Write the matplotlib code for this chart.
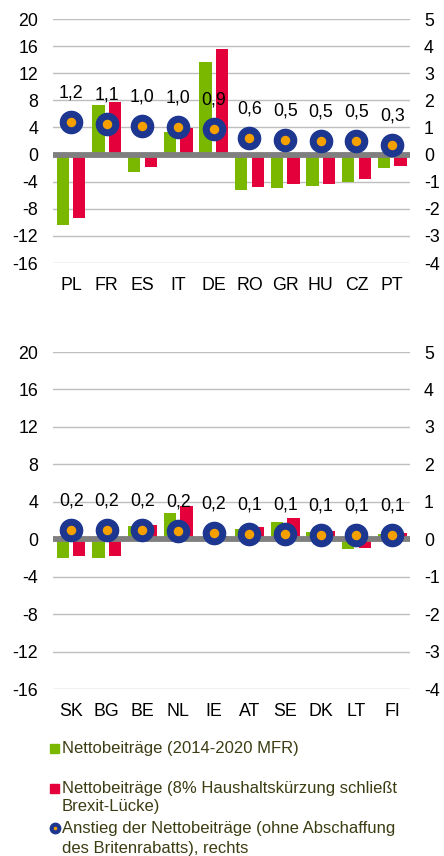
import matplotlib
matplotlib.use("Agg")
import matplotlib.pyplot as plt
from matplotlib.lines import Line2D
from matplotlib.patches import Rectangle

plt.rcParams['font.family'] = ['Liberation Sans', 'DejaVu Sans']

# Werte
laender_oben = ['PL', 'FR', 'ES', 'IT', 'DE', 'RO', 'GR', 'HU', 'CZ', 'PT']
netto_mfr_oben = [-10.4, 7.3, -2.6, 3.4, 13.7, -5.3, -4.9, -4.7, -4.1, -2.0]
netto_kuerzung_oben = [-9.4, 7.8, -1.8, 3.9, 15.6, -4.8, -4.4, -4.3, -3.6, -1.7]
anstieg_oben = [1.2, 1.12, 1.04, 1.0, 0.93, 0.6, 0.54, 0.5, 0.5, 0.34]

laender_unten = ['SK', 'BG', 'BE', 'NL', 'IE', 'AT', 'SE', 'DK', 'LT', 'FI']
netto_mfr_unten = [-2.0, -2.0, 1.4, 2.85, 0.2, 1.1, 1.85, 0.8, -1.07, 0.55]
netto_kuerzung_unten = [-1.8, -1.8, 1.55, 3.6, 0.3, 1.35, 2.25, 0.9, -0.93, 0.65]
anstieg_unten = [0.24, 0.24, 0.24, 0.22, 0.16, 0.14, 0.14, 0.12, 0.12, 0.12]

links_ticks = list(range(-16, 21, 4))
rechts_ticks = list(range(-4, 6))

GRUEN = '#7AB800'
ROT = '#E4003A'
BLAU = '#1D3791'
ORANGE = '#F6A000'
TEXT = '#3D3D14'

W, H = 444, 856
fig = plt.figure(figsize=(W / 100, H / 100), dpi=100)


def panel(rect, laender, gruen, rot, punkte):
    ax = fig.add_axes(rect)
    x = list(range(len(laender)))
    ax.bar([i - 0.23 for i in x], gruen, width=0.345, color=GRUEN, zorder=2)
    ax.bar([i + 0.23 for i in x], rot, width=0.345, color=ROT, zorder=2)
    ax.set_xlim(-0.5, len(laender) - 0.5)
    ax.set_ylim(-16, 20)
    ax.set_yticks(links_ticks)
    ax.set_yticklabels([str(t) for t in links_ticks])
    for t in links_ticks:
        if t != 0:
            ax.axhline(t, color='#BEBEBE', lw=1, zorder=1)
    ax.axhline(0, color='#7F7F7F', lw=4.2, zorder=3)
    ax.set_xticks(x)
    ax.set_xticklabels(laender)
    ax.tick_params(length=0, labelsize=12.8, colors='black')
    ax.tick_params(axis='x', pad=10)
    ax.tick_params(axis='y', pad=11)
    for s in ax.spines.values():
        s.set_visible(False)

    ax2 = ax.twinx()
    ax2.set_ylim(-4, 5)
    ax2.set_yticks(rechts_ticks)
    ax2.set_yticklabels([str(t) for t in rechts_ticks])
    ax2.tick_params(length=0, labelsize=12.8, colors='black', pad=10)
    for s in ax2.spines.values():
        s.set_visible(False)
    ax2.plot(x, punkte, 'o', ms=16, color=BLAU, ls='none', zorder=4)
    ax2.plot(x, punkte, 'o', ms=5.8, color=ORANGE, ls='none', zorder=5)
    for i, v in zip(x, punkte):
        ax2.annotate(f"{v:.1f}".replace('.', ','), (i, v), xytext=(0, 21),
                     textcoords='offset points', ha='center', va='center',
                     fontsize=12.8, color='black')
    return ax


panel([53.3 / W, 1 - 263 / H, (410 - 53.3) / W, 244 / H],
      laender_oben, netto_mfr_oben, netto_kuerzung_oben, anstieg_oben)
panel([53.3 / W, 1 - 689 / H, (410 - 53.3) / W, 337 / H],
      laender_unten, netto_mfr_unten, netto_kuerzung_unten, anstieg_unten)

# Legende
def fy(py):
    return 1 - py / H

fig.add_artist(Rectangle((50 / W, fy(752.5)), 9 / W, 9 / H, color=GRUEN, transform=fig.transFigure))
fig.add_artist(Rectangle((50 / W, fy(792.5)), 9 / W, 9 / H, color=ROT, transform=fig.transFigure))
fig.add_artist(Line2D([54.5 / W], [fy(828)], marker='o', ms=7.5, color=BLAU, transform=fig.transFigure))
fig.add_artist(Line2D([54.5 / W], [fy(828)], marker='o', ms=1.5, color=ORANGE, transform=fig.transFigure))

zeilen = [
    (748, 'Nettobeiträge (2014-2020 MFR)'),
    (788, 'Nettobeiträge (8% Haushaltskürzung schließt'),
    (807, 'Brexit-Lücke)'),
    (828, 'Anstieg der Nettobeiträge (ohne Abschaffung'),
    (848, 'des Britenrabatts), rechts'),
]
for py, txt in zeilen:
    fig.text(62 / W, fy(py), txt, ha='left', va='center', fontsize=12, color=TEXT)

fig.savefig('out.png', dpi=100)
